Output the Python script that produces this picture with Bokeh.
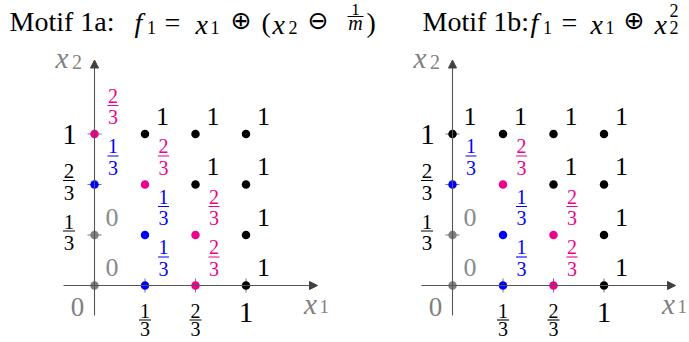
import numpy as np
from bokeh.plotting import figure
from bokeh.models import Range1d, Arrow, NormalHead
from bokeh.core.properties import value
from bokeh.embed import file_html
from bokeh.resources import INLINE

# ---------------- data ----------------
grid = [0, 1/3, 2/3, 1]                      # x1 and x2 grid values
tick_vals = [1/3, 2/3, 1]
tick_nums = ["1", "2", "1"]                  # tick labels: 1/3, 2/3, 1
tick_dens = ["3", "3", None]
# function values (in thirds), rows = x1, cols = x2
motif_1a = [[0, 0, 1, 2],
            [1, 1, 2, 3],
            [2, 2, 3, 3],
            [3, 3, 3, 3]]
motif_1b = [[0, 0, 1, 3],
            [1, 1, 2, 3],
            [2, 2, 3, 3],
            [3, 3, 3, 3]]
level_nums = ["0", "1", "2", "1"]
level_dens = [None, "3", "3", None]
point_colors = ["#808080", "#0000FF", "#EC008C", "#000000"]
label_colors = ["#8a8a8a", "#0000FF", "#EC008C", "#000000"]

# ---------------- layout ----------------
S = 151.5                 # px per unit
W, H = 689, 342
PX0, PY0 = 0, 0           # page position of the figure
OX, OY = 94, 285          # page px of left origin
D = (452 - 94) / S        # shift of second panel (data units)
SERIF = value("Liberation Serif")
SYM = value("DejaVu Sans")

def P(px, py):
    return (px - OX) / S, (OY - py) / S

p = figure(width=W, height=H,
           x_range=Range1d((PX0 - OX) / S, (PX0 + W - OX) / S),
           y_range=Range1d((OY - PY0 - H) / S, (OY - PY0) / S),
           output_backend="svg", toolbar_location=None,
           x_axis_location=None, y_axis_location=None, min_border=0)
p.grid.visible = False
p.outline_line_color = None

AX = "#555555"

def txt(xs, ys, texts, color, size, style="normal", font=SERIF,
        align="center", xo=0, yo=0):
    p.text(x=xs, y=ys, text=texts, text_color=color,
           text_font=font, text_font_size=f"{size}px",
           text_font_style=style, text_align=align,
           text_baseline="middle", x_offset=xo, y_offset=yo)

def frac(xs, ys, nums, dens, color, size, xo, y_num, y_bar, y_den, bw):
    txt(xs, ys, nums, color, size, xo=xo, yo=y_num)
    txt(xs, ys, dens, color, size, xo=xo, yo=y_den)
    p.rect(x=[x + xo / S for x in xs], y=[y - y_bar / S for y in ys],
           width=bw, height=1.1, width_units="screen", height_units="screen",
           fill_color=color, line_color=None)

def panel(dx, values):
    # axes
    p.add_layout(Arrow(end=NormalHead(size=8, fill_color="#404040", line_color="#404040"),
                       x_start=dx + P(63, 0)[0], y_start=0,
                       x_end=dx + P(317, 0)[0], y_end=0,
                       line_color=AX, line_width=1.1))
    p.add_layout(Arrow(end=NormalHead(size=8, fill_color="#404040", line_color="#404040"),
                       x_start=dx, y_start=P(0, 315)[1],
                       x_end=dx, y_end=P(0, 59.5)[1],
                       line_color=AX, line_width=1.1))
    # ticks
    p.scatter(x=[dx + t for t in tick_vals], y=[0] * 3, marker="dash", size=14,
              angle=np.pi / 2, line_color="#777777", line_width=1)
    p.scatter(x=[dx] * 3, y=tick_vals, marker="dash", size=14,
              line_color="#777777", line_width=1)
    # tick labels x
    fx = [dx + t for t, d in zip(tick_vals, tick_dens) if d]
    frac(fx, [0] * len(fx), [n for n, d in zip(tick_nums, tick_dens) if d],
         [d for d in tick_dens if d], "#000000", 20, 0, 25, 34.5, 43.5, 12)
    ix = [dx + t for t, d in zip(tick_vals, tick_dens) if not d]
    txt(ix, [0] * len(ix), [n for n, d in zip(tick_nums, tick_dens) if not d],
        "#000000", 29, yo=27)
    # tick labels y
    fy = [t for t, d in zip(tick_vals, tick_dens) if d]
    frac([dx] * len(fy), fy, [n for n, d in zip(tick_nums, tick_dens) if d],
         [d for d in tick_dens if d], "#000000", 21, -25.5, -13.5, -4, 8, 12)
    iy = [t for t, d in zip(tick_vals, tick_dens) if not d]
    txt([dx] * len(iy), iy, [n for n, d in zip(tick_nums, tick_dens) if not d],
        "#000000", 29, xo=-25, yo=0)
    # origin label
    txt([dx], [0], ["0"], "#808080", 27, xo=-17, yo=21)
    # axis names
    txt([dx], [1], ["x"], "#808080", 29, style="italic", align="left", xo=-39, yo=-76)
    txt([dx], [1], ["2"], "#808080", 20, align="left", xo=-22.5, yo=-72.5)
    txt([dx + 1], [0], ["x"], "#808080", 29, style="italic", align="left", xo=58, yo=18)
    txt([dx + 1], [0], ["1"], "#808080", 19, align="left", xo=73.5, yo=21)
    # points + labels
    for lv in range(4):
        xs, ys = [], []
        for i, a in enumerate(grid):
            for j, b in enumerate(grid):
                if values[i][j] == lv:
                    xs.append(dx + a)
                    ys.append(b)
        p.scatter(x=xs, y=ys, size=8.5, fill_color=point_colors[lv], line_color=None)
        if level_dens[lv]:
            frac(xs, ys, [level_nums[lv]] * len(xs), [level_dens[lv]] * len(xs),
                 label_colors[lv], 20, 18.5, -38.5, -28.5, -17, 11)
        else:
            txt(xs, ys, [level_nums[lv]] * len(xs), label_colors[lv], 26,
                xo=17.5, yo=-18)

panel(0, motif_1a)
panel(D, motif_1b)

# ---------------- titles ----------------
def tpiece(t, px, py, size, style="normal", font=SERIF, align="left"):
    x, y = P(px, py)
    txt([x], [y], [t], "#000000", size, style=style, font=font, align=align)

CY = 21          # visual centre line of the title digits
tpiece("Motif 1a:", 9, CY, 28)
tpiece("f", 134, CY + 1, 28, "italic")
tpiece("1", 146.5, CY + 6, 18)
tpiece("=", 164, CY + 1, 28)
tpiece("x", 195, CY + 3, 28, "italic")
tpiece("1", 210, CY + 6, 18)
tpiece("\u2295", 230, CY - 1, 25, font=SYM)
tpiece("(", 261, CY + 1, 28)
tpiece("x", 272, CY + 3, 28, "italic")
tpiece("2", 288, CY + 6, 18)
tpiece("\u2296", 307, CY - 1, 25, font=SYM)
tpiece("1", 355, 9, 17, align="center")
tpiece("m", 355, 22.5, 20, "italic", align="center")
bx, by = P(355, 16)
p.rect(x=[bx], y=[by], width=16, height=1.1, width_units="screen",
       height_units="screen", fill_color="#000000", line_color=None)
tpiece(")", 366, CY + 1, 28)

tpiece("Motif 1b:", 422, CY, 28)
tpiece("f", 530, CY + 1, 28, "italic")
tpiece("1", 542.5, CY + 6, 18)
tpiece("=", 561, CY + 1, 28)
tpiece("x", 590, CY + 3, 28, "italic")
tpiece("1", 605, CY + 6, 18)
tpiece("\u2295", 623, CY - 1, 25, font=SYM)
tpiece("x", 654, CY + 3, 28, "italic")
tpiece("2", 669, CY - 11, 18)
tpiece("2", 669, CY + 6, 18)

open("out.html", "w").write(file_html(p, INLINE))
